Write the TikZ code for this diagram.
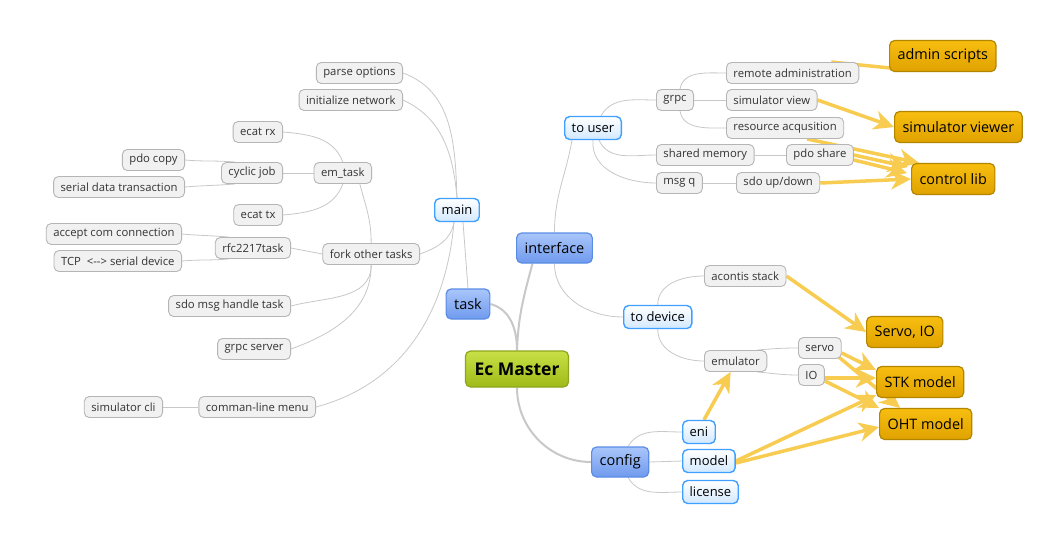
\documentclass[tikz,border=0pt]{standalone}
\usepackage{fontspec}
\setmainfont{Open Sans}
\usetikzlibrary{arrows.meta,backgrounds}

\definecolor{leaffill}{HTML}{F1F1F1}
\definecolor{leafline}{HTML}{B5B5B5}
\definecolor{leaftext}{HTML}{333333}
\definecolor{subline}{HTML}{3FA0FF}
\definecolor{subfill}{HTML}{D2E8FF}
\definecolor{topicline}{HTML}{5A8CE6}
\definecolor{topictop}{HTML}{AAC6FA}
\definecolor{topicbot}{HTML}{6F9AEE}
\definecolor{roottop}{HTML}{C8E046}
\definecolor{rootbot}{HTML}{9FBB18}
\definecolor{rootline}{HTML}{8FA51C}
\definecolor{goaltop}{HTML}{F7BE10}
\definecolor{goalbot}{HTML}{E0A200}
\definecolor{goalline}{HTML}{B38600}
\definecolor{linkgray}{HTML}{C8C8C8}
\definecolor{feedyellow}{HTML}{F8CC50}

\tikzset{
  leaf/.style={draw=leafline, fill=leaffill, rounded corners=5pt, line width=0.9pt,
    text=leaftext, font=\fontsize{11.3}{13}\selectfont, inner xsep=7pt,
    minimum height=21pt},
  sub/.style={draw=subline, top color=white, bottom color=subfill, rounded corners=5pt,
    line width=1.4pt, font=\fontsize{13}{15}\selectfont, inner xsep=7pt,
    minimum height=23pt},
  topic/.style={draw=topicline, top color=topictop, bottom color=topicbot,
    rounded corners=5pt, line width=1.2pt, font=\fontsize{14.5}{16}\selectfont,
    inner xsep=8pt, minimum height=30pt},
  root/.style={draw=rootline, top color=roottop, bottom color=rootbot,
    rounded corners=5pt, line width=1.2pt, font=\fontsize{17.5}{19}\selectfont\bfseries,
    inner xsep=9pt, minimum height=36pt},
  goal/.style={draw=goalline, top color=goaltop, bottom color=goalbot,
    rounded corners=5pt, line width=1.2pt, font=\fontsize{14.4}{16}\selectfont,
    inner xsep=8pt, minimum height=31pt},
  link/.style={draw=linkgray, line width=0.8pt},
  trunk/.style={draw=linkgray, line width=2pt},
  feed/.style={draw=feedyellow, line width=3.5pt,
    -{Stealth[length=20pt,width=19pt,inset=6pt]}}
}

\begin{document}
\begin{tikzpicture}[x=1pt,y=-1pt]
\useasboundingbox (0,0) rectangle (1061,542);

% centre and first level
\node[root] (master) at (517,369) {Ec Master};
\node[topic] (task) at (468,304) {task};
\node[topic, anchor=west] (interface) at (516,248) {interface};
\node[topic, anchor=west] (config) at (591,462) {config};

% task side
\node[sub] (main) at (457,210) {main};
\node[leaf, anchor=east] (parse) at (403,73) {parse options};
\node[leaf, anchor=east] (initnet) at (403,100) {initialize network};
\node[leaf, anchor=east] (emtask) at (372,173) {em\_task};
\node[leaf, anchor=east] (ecatrx) at (283,132) {ecat rx};
\node[leaf, anchor=east] (cyclic) at (283,173) {cyclic job};
\node[leaf, anchor=east] (pdocopy) at (185,160) {pdo copy};
\node[leaf, anchor=east] (serial) at (185,187) {serial data transaction};
\node[leaf, anchor=east] (ecattx) at (283,215) {ecat tx};
\node[leaf, anchor=east] (fork) at (420,254) {fork other tasks};
\node[leaf, anchor=east] (rfc) at (291,248) {rfc2217task};
\node[leaf, anchor=east] (accept) at (182,234) {accept com connection};
\node[leaf, anchor=east] (tcp) at (182,261) {TCP~~<-{}-> serial device};
\node[leaf, anchor=east] (sdomsg) at (291,306) {sdo msg handle task};
\node[leaf, anchor=east] (grpcsrv) at (291,349) {grpc server};
\node[leaf, anchor=east] (cmdmenu) at (316,407) {comman-line menu};
\node[leaf, anchor=east] (simcli) at (163,407) {simulator cli};

% interface side
\node[sub, anchor=west] (touser) at (564,128) {to user};
\node[leaf, anchor=west] (grpc) at (656,100) {grpc};
\node[leaf, anchor=west] (remote) at (726,73) {remote administration};
\node[leaf, anchor=west] (simview) at (726,100) {simulator view};
\node[leaf, anchor=west] (resource) at (726,128) {resource acqusition};
\node[leaf, anchor=west] (shm) at (656,155) {shared memory};
\node[leaf, anchor=west] (pdoshare) at (786,155) {pdo share};
\node[leaf, anchor=west] (msgq) at (656,183) {msg q};
\node[leaf, anchor=west] (sdoupdown) at (736,183) {sdo up/down};
\node[sub, anchor=west] (todevice) at (623,317) {to device};
\node[leaf, anchor=west] (acontis) at (704,276) {acontis stack};
\node[leaf, anchor=west] (emulator) at (704,361) {emulator};
\node[leaf, anchor=west] (servo) at (798,348) {servo};
\node[leaf, anchor=west] (io) at (798,375) {IO};

% config side
\node[sub, anchor=west] (eni) at (682,432) {eni};
\node[sub, anchor=west] (model) at (682,461) {model};
\node[sub, anchor=west] (license) at (682,492) {license};

% users of the parts
\node[goal, anchor=west] (admin) at (889,56) {admin scripts};
\node[goal, anchor=west] (simviewer) at (894,127) {simulator viewer};
\node[goal, anchor=west] (ctrllib) at (911,179) {control lib};
\node[goal, anchor=west] (servoio) at (866,332) {Servo, IO};
\node[goal, anchor=west] (stk) at (876,382) {STK model};
\node[goal, anchor=west] (oht) at (879,424) {OHT model};

\begin{scope}[on background layer]
\fill[white] (0,0) rectangle (1061,542);
% trunk
\draw[trunk] (master.north) to[out=90,in=-15] (task.east);
\draw[trunk] (master.north) to[out=88,in=-105] ([xshift=-22]interface.south);
\draw[trunk] (master.south) to[out=-90,in=180] (config.west);

% task branch
\draw[link] (task.north) -- ([xshift=6]main.south);
\draw[link] (main.north) to[out=92,in=-20] (parse.east);
\draw[link] (main.north) to[out=95,in=-25] (initnet.east);
\draw[link] ([xshift=-3]main.south) to[out=-100,in=20] (fork.east);
\draw[link] ([xshift=-3]main.south) to[out=-95,in=15] (cmdmenu.east);
\draw[link] (fork.north) to[out=90,in=-75] ([xshift=17]emtask.south);
\draw[link] (fork.west) -- (rfc.east);
\draw[link] (fork.south) to[out=-90,in=15] (sdomsg.east);
\draw[link] (fork.south) to[out=-90,in=20] (grpcsrv.east);
\draw[link] (emtask.north) to[out=110,in=-5] (ecatrx.east);
\draw[link] (emtask.west) -- (cyclic.east);
\draw[link] (emtask.south) to[out=-110,in=5] (ecattx.east);
\draw[link] ([xshift=14]cyclic.north west) to[out=175,in=-5] (pdocopy.east);
\draw[link] ([xshift=14]cyclic.south west) to[out=185,in=5] (serial.east);
\draw[link] ([xshift=14]rfc.north west) to[out=175,in=-5] (accept.east);
\draw[link] ([xshift=14]rfc.south west) to[out=185,in=5] (tcp.east);
\draw[link] (cmdmenu.west) -- (simcli.east);

% interface branch
\draw[link] (interface.north) to[out=90,in=-100] ([xshift=8]touser.south west);
\draw[link] (interface.south) to[out=-90,in=180] (todevice.west);
\draw[link] ([xshift=8]touser.north) to[out=60,in=180] (grpc.west);
\draw[link] ([xshift=6]touser.south) to[out=-65,in=180] (shm.west);
\draw[link] (touser.south) to[out=-95,in=180] (msgq.west);
\draw[link] ([xshift=5]grpc.north) to[out=80,in=180] (remote.west);
\draw[link] (grpc.east) -- (simview.west);
\draw[link] ([xshift=5]grpc.south) to[out=-80,in=180] (resource.west);
\draw[link] (shm.east) -- (pdoshare.west);
\draw[link] (msgq.east) -- (sdoupdown.west);
\draw[link] (todevice.north) to[out=90,in=180] (acontis.west);
\draw[link] (todevice.south) to[out=-90,in=180] (emulator.west);
\draw[link] ([xshift=-10]emulator.north east) to[out=5,in=180] (servo.west);
\draw[link] ([xshift=-10]emulator.south east) to[out=-5,in=180] (io.west);

% config branch
\draw[link] ([xshift=8]config.north) to[out=60,in=180] (eni.west);
\draw[link] (config.east) -- (model.west);
\draw[link] ([xshift=8]config.south) to[out=-60,in=180] (license.west);

% yellow usage arrows
\draw[feed,-] ([xshift=-28]remote.north east) -- ([xshift=12,yshift=3]admin.south west);
\draw[feed] (simview.east) -- (simviewer.west);
\draw[feed] ([xshift=-37]resource.south east) -- ([xshift=8]ctrllib.north west);
\draw[feed] (pdoshare.east) -- ([xshift=-3,yshift=12]ctrllib.west);
\draw[feed] ([yshift=-5]pdoshare.east) -- ([xshift=-4,yshift=6]ctrllib.west);
\draw[feed] (sdoupdown.east) -- (ctrllib.west);
\draw[feed] (acontis.east) -- (servoio.west);
\draw[feed] ([yshift=-5]servo.east) -- ([yshift=12]stk.west);
\draw[feed] ([xshift=-3,yshift=-9]servo.east) -- ([xshift=21]oht.north west);
\draw[feed] ([yshift=-3]io.east) -- ([yshift=4]stk.west);
\draw[feed] ([yshift=-6]io.east) -- (oht.north west);
\draw[feed] (model.east) -- ([yshift=-13]stk.west);
\draw[feed] ([yshift=-2]model.east) -- ([yshift=-3]oht.west);
\draw[feed] ([xshift=5]eni.north) -- ([xshift=-5]emulator.south);
\end{scope}
\end{tikzpicture}
\end{document}
